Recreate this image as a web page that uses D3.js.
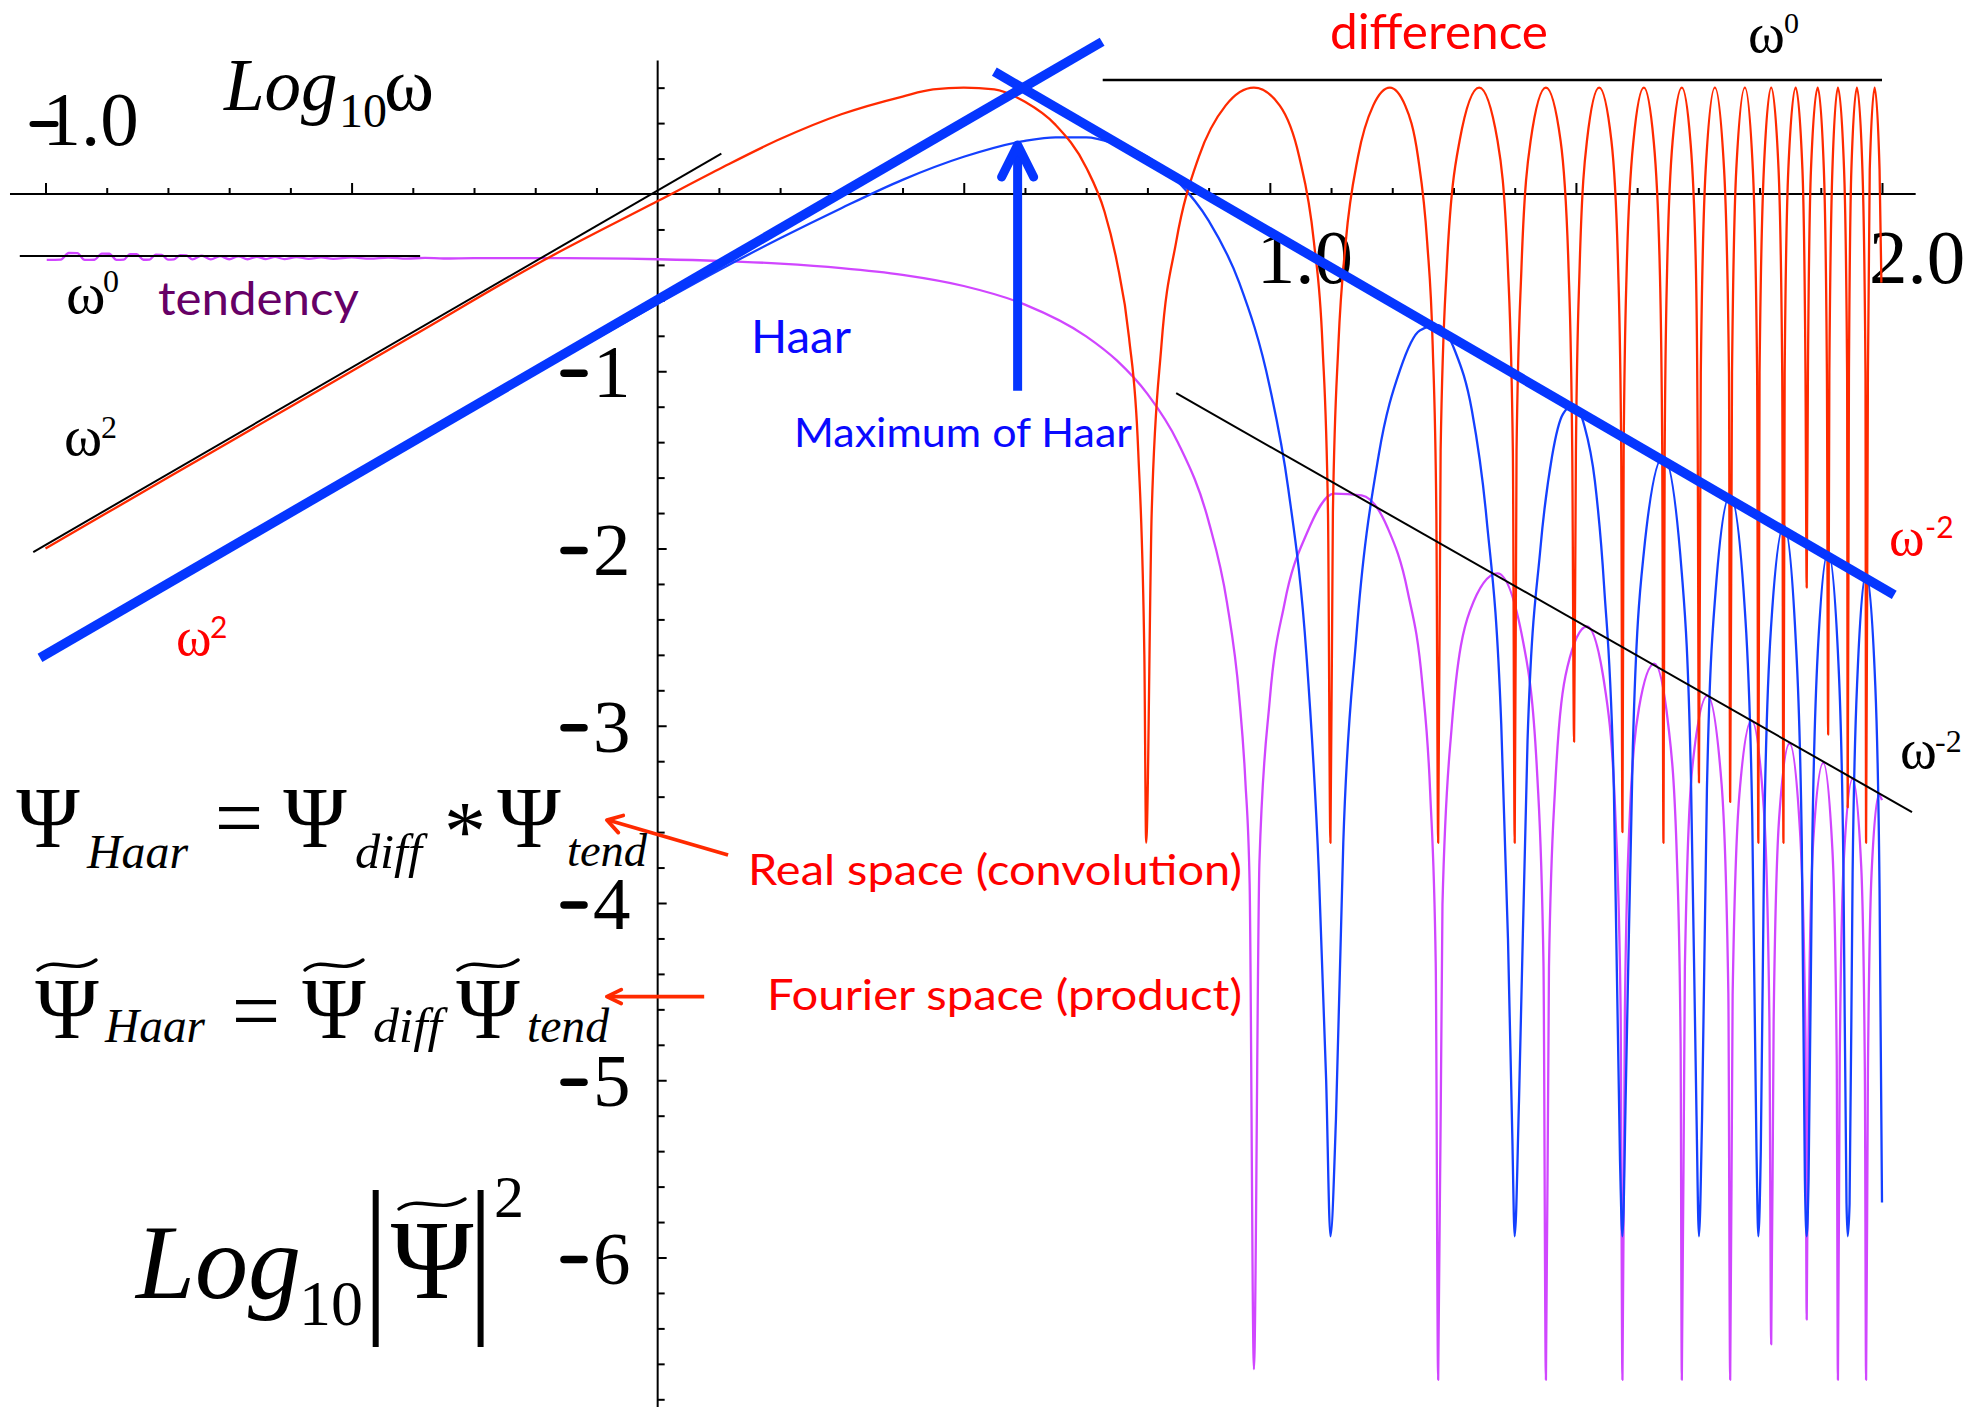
<!DOCTYPE html>
<html>
<head>
<meta charset="utf-8">
<title>Haar wavelet spectrum: difference × tendency</title>
<script src="https://cdn.jsdelivr.net/npm/d3@7"></script>
<style>
  html, body { margin: 0; padding: 0; background: #fff; }
  svg { display: block; }
</style>
</head>
<body>
<svg id="chart" width="1987" height="1407"></svg>
<script>
// ---------------------------------------------------------------------------
// Spectra as [log10 ω, log10 |Ψ̃|²] pairs
// ---------------------------------------------------------------------------

// "difference" wavelet (red)
const diffSpectrum = [
  [-1.00,-2.00],[-0.80,-1.60],[-0.60,-1.20],[-0.40,-0.80],[-0.20,-0.40],[0.00,-0.04],
  [0.10,0.14],[0.20,0.31],[0.30,0.45],[0.40,0.55],[0.45,0.59],[0.50,0.60],[0.55,0.59],
  [0.60,0.52],[0.65,0.39],[0.70,0.15],[0.73,-0.10],[0.75,-0.38],[0.77,-0.81],[0.785,-1.45],
  [0.795,-2.60],[0.798,-3.66],
  [0.807,-1.80],[0.823,-0.85],[0.847,-0.27],[0.884,0.21],[0.928,0.50],[0.974,0.60],
  [1.016,0.50],[1.048,0.21],[1.072,-0.27],[1.086,-0.85],[1.095,-1.80],[1.099,-3.66],
  [1.103,-1.80],[1.112,-0.85],[1.124,-0.27],[1.144,0.21],[1.169,0.50],[1.196,0.60],
  [1.221,0.50],[1.242,0.21],[1.257,-0.27],[1.266,-0.85],[1.272,-1.80],[1.275,-3.66],
  [1.279,-1.45],[1.289,-0.42],[1.310,0.30],[1.342,0.60],[1.372,0.30],[1.389,-0.42],[1.397,-1.45],[1.400,-3.66],
  [1.403,-1.45],[1.411,-0.42],[1.426,0.30],[1.451,0.60],[1.475,0.30],[1.488,-0.42],[1.494,-1.45],[1.497,-3.09],
  [1.500,-1.45],[1.506,-0.42],[1.518,0.30],[1.538,0.60],[1.558,0.30],[1.569,-0.42],[1.574,-1.45],[1.576,-3.60],
  [1.578,-1.45],[1.583,-0.42],[1.594,0.30],[1.611,0.60],[1.627,0.30],[1.637,-0.42],[1.641,-1.45],[1.643,-3.66],
  [1.645,-1.45],[1.649,-0.42],[1.658,0.30],[1.673,0.60],[1.687,0.30],[1.696,-0.42],[1.699,-1.45],[1.701,-3.32],
  [1.704,-1.01],[1.712,0.14],[1.727,0.60],[1.742,0.14],[1.750,-1.01],[1.752,-3.43],
  [1.755,-1.01],[1.762,0.14],[1.776,0.60],[1.789,0.14],[1.796,-1.01],[1.798,-3.66],
  [1.800,-1.01],[1.807,0.14],[1.819,0.60],[1.831,0.14],[1.837,-1.01],[1.839,-3.66],
  [1.841,-1.01],[1.847,0.14],[1.859,0.60],[1.870,0.14],[1.875,-1.01],[1.877,-2.22],
  [1.879,-1.01],[1.884,0.14],[1.895,0.60],[1.905,0.14],[1.910,-1.01],[1.912,-3.05],
  [1.914,-1.01],[1.919,0.14],[1.928,0.60],[1.938,0.14],[1.943,-1.01],[1.944,-3.46],
  [1.946,-1.01],[1.950,0.14],[1.959,0.60],[1.968,0.14],[1.973,-1.01],[1.974,-3.66],
  [1.977,-1.01],[1.980,0.14],[1.988,0.60],[1.996,0.14],[1.999,-0.50]
];

// Haar wavelet (blue)
const haarSpectrum = [
  [-1.00,-2.60],[-0.60,-1.80],[-0.20,-1.01],[0.00,-0.62],[0.10,-0.43],[0.20,-0.25],
  [0.30,-0.08],[0.40,0.08],[0.50,0.21],[0.60,0.30],[0.65,0.32],[0.70,0.32],[0.75,0.28],
  [0.80,0.21],[0.85,0.07],[0.90,-0.15],[0.95,-0.50],[1.00,-1.09],[1.03,-1.66],[1.06,-2.61],
  [1.08,-3.82],[1.092,-5.00],[1.099,-5.88],
  [1.108,-5.22],[1.120,-3.66],[1.141,-2.51],[1.178,-1.47],[1.213,-0.99],[1.245,-0.77],
  [1.275,-0.74],[1.303,-0.89],[1.330,-1.22],[1.354,-1.83],[1.378,-2.99],[1.389,-4.20],
  [1.396,-5.30],[1.400,-5.88],
  [1.407,-5.12],[1.421,-3.08],[1.442,-2.00],[1.461,-1.48],[1.479,-1.24],[1.497,-1.19],
  [1.514,-1.31],[1.531,-1.62],[1.546,-2.21],[1.562,-3.36],[1.572,-5.45],[1.576,-5.88],
  [1.582,-4.97],[1.593,-3.12],[1.611,-2.02],[1.643,-1.48],[1.673,-2.14],[1.688,-3.31],[1.697,-5.20],[1.701,-5.88],
  [1.706,-5.22],[1.714,-3.36],[1.728,-2.25],[1.752,-1.70],[1.776,-2.35],[1.788,-3.51],[1.795,-5.40],[1.798,-5.88],
  [1.802,-5.40],[1.808,-3.54],[1.819,-2.43],[1.840,-1.87],[1.859,-2.51],[1.869,-3.66],[1.874,-5.55],[1.877,-5.88],
  [1.880,-5.57],[1.886,-3.70],[1.895,-2.59],[1.912,-2.02],[1.929,-2.66],[1.937,-3.81],[1.942,-5.69],[1.944,-5.88],
  [1.947,-5.70],[1.952,-3.83],[1.960,-2.71],[1.974,-2.14],[1.989,-2.77],[1.996,-3.92],[2.000,-5.69]
];

// "tendency" (box) wavelet (purple)
const tendSpectrum = [
  [-0.998,-0.372],[-0.975,-0.370],[-0.962,-0.333],[-0.948,-0.334],[-0.936,-0.372],[-0.920,-0.371],
  [-0.908,-0.336],[-0.896,-0.337],[-0.884,-0.372],[-0.872,-0.370],[-0.862,-0.339],[-0.851,-0.340],
  [-0.840,-0.371],[-0.830,-0.370],[-0.820,-0.342],[-0.810,-0.343],[-0.800,-0.370],[-0.790,-0.369],
  [-0.780,-0.345],[-0.770,-0.346],[-0.760,-0.369],[-0.745,-0.348],[-0.730,-0.369],[-0.715,-0.350],
  [-0.700,-0.368],[-0.685,-0.352],[-0.670,-0.368],[-0.655,-0.354],[-0.640,-0.367],[-0.625,-0.355],
  [-0.610,-0.367],[-0.590,-0.356],[-0.570,-0.366],[-0.550,-0.357],[-0.530,-0.366],[-0.500,-0.358],
  [-0.470,-0.365],[-0.440,-0.359],[-0.410,-0.365],[-0.380,-0.360],[-0.350,-0.364],[-0.300,-0.362],
  [-0.200,-0.362],[-0.050,-0.365],[0.00,-0.368],[0.10,-0.377],[0.20,-0.393],[0.30,-0.418],
  [0.40,-0.456],[0.50,-0.519],[0.60,-0.624],[0.70,-0.803],[0.75,-0.939],[0.80,-1.128],
  [0.85,-1.403],[0.90,-1.847],[0.93,-2.305],[0.95,-2.838],[0.96,-3.31],[0.967,-3.89],[0.974,-6.63],
  [0.983,-3.77],[1.000,-2.85],[1.024,-2.31],[1.061,-1.91],[1.105,-1.69],[1.150,-1.70],
  [1.192,-1.88],[1.225,-2.24],[1.249,-2.76],[1.262,-3.38],[1.271,-4.34],[1.275,-6.69],
  [1.282,-4.01],[1.297,-3.01],[1.327,-2.35],[1.372,-2.14],[1.414,-2.53],[1.437,-3.29],[1.447,-4.34],[1.451,-6.69],
  [1.456,-4.36],[1.466,-3.35],[1.486,-2.67],[1.518,-2.44],[1.548,-2.80],[1.565,-3.55],[1.573,-4.60],[1.576,-6.69],
  [1.580,-4.61],[1.587,-3.59],[1.603,-2.90],[1.628,-2.65],[1.651,-3.00],[1.665,-3.75],[1.671,-4.79],[1.673,-6.69],
  [1.678,-4.36],[1.690,-3.24],[1.715,-2.83],[1.738,-3.33],[1.749,-4.51],[1.752,-6.69],
  [1.756,-4.52],[1.767,-3.39],[1.787,-2.97],[1.807,-3.47],[1.816,-4.64],[1.819,-6.49],
  [1.823,-4.66],[1.832,-3.52],[1.849,-3.10],[1.866,-3.59],[1.875,-4.76],[1.877,-6.35],
  [1.880,-4.77],[1.888,-3.63],[1.904,-3.21],[1.919,-3.70],[1.926,-4.86],[1.928,-6.69],
  [1.931,-4.87],[1.938,-3.73],[1.952,-3.30],[1.966,-3.79],[1.972,-4.95],[1.974,-6.69],
  [1.977,-4.96],[1.983,-3.83],[1.995,-3.39],[2.000,-3.42]
];

// Power-law guide lines (endpoints in log10 ω, log10 |Ψ̃|²)
const guideOmega2      = [[-1.020,-2.020],[0.104,0.228]];   // ω²  (thin black)
const guideOmegaMinus2 = [[0.847,-1.124],[2.049,-3.487]];   // ω⁻² (thin black)
const guideOmega0Top   = [[0.727,0.643],[2.000,0.643]];     // ω⁰  (difference plateau)
const guideOmega0Left  = [[-1.042,-0.350],[-0.388,-0.350]]; // ω⁰  (tendency plateau)
const haarRiseFit      = [[-1.009,-2.617],[0.726,0.859]];   // ω²  (thick blue)
const haarFallFit      = [[0.550,0.690],[2.020,-2.262]];    // ω⁻² (thick blue)

// Annotation arrows, in data units
const maxHaarArrow   = { x: 0.588, from: -1.11, to: 0.288 };
const convArrow      = { from: [0.115,-3.729], to: [-0.083,-3.532] };
const productArrow   = { from: [0.076,-4.528], to: [-0.083,-4.528] };

// Tick labels
const xLabelValues = [-1, 1, 2];
const xLabelTexts  = ["-1.0", "1.0", "2.0"];
const yLabelValues = [-1, -2, -3, -4, -5, -6];
const yLabelTexts  = ["-1", "-2", "-3", "-4", "-5", "-6"];

// ---------------------------------------------------------------------------
// Scales and styles
// ---------------------------------------------------------------------------
const x = d3.scaleLinear().domain([-1, 2]).range([45.5, 1882]);
const y = d3.scaleLinear().domain([0, -6]).range([194, 1257.5]);

const serif = "'Liberation Serif', 'Times New Roman', Times, serif";
const sans  = "Lato, 'Open Sans', 'Noto Sans', sans-serif";

const RED_LINE = "#ff2a00", RED_TEXT = "#ff0000";
const BLUE_LINE = "#1440ff", BLUE_THICK = "#0536ff", BLUE_TEXT = "#0a0aff";
const PURPLE_LINE = "#d046ff", PURPLE_TEXT = "#660066";

const svg = d3.select("#chart");
svg.append("rect").attr("width", 1987).attr("height", 1407).attr("fill", "#fff");

// ---------------------------------------------------------------------------
// Axes (crossing at the origin)
// ---------------------------------------------------------------------------
const axes = svg.append("g").attr("class", "axes");

axes.append("line")
  .attr("x1", x(-1.058)).attr("x2", x(2.055))
  .attr("y1", y(0)).attr("y2", y(0))
  .attr("stroke", "#000").attr("stroke-width", 2.2);

axes.append("line")
  .attr("x1", x(0)).attr("x2", x(0))
  .attr("y1", y(0.753)).attr("y2", 1407)
  .attr("stroke", "#000").attr("stroke-width", 2);

const xMinorTicks = d3.range(-10, 21).filter(i => i % 5 !== 0).map(i => i / 10);
const xMajorTicks = [-1, -0.5, 0.5, 1, 1.5, 2];
const yMinorTicks = d3.range(-34, 4).filter(i => i % 5 !== 0).map(i => i / 5);
const yMajorTicks = [-1, -2, -3, -4, -5, -6];

function styleAxis(g) {
  g.select(".domain").remove();
  g.selectAll(".tick line").attr("stroke", "#000").attr("stroke-width", 2);
}

axes.append("g").attr("transform", `translate(0,${y(0)})`)
  .call(d3.axisTop(x).tickValues(xMinorTicks).tickSize(6).tickFormat(""))
  .call(styleAxis);
axes.append("g").attr("transform", `translate(0,${y(0)})`)
  .call(d3.axisTop(x).tickValues(xMajorTicks).tickSize(11).tickFormat(""))
  .call(styleAxis);
axes.append("g").attr("transform", `translate(${x(0)},0)`)
  .call(d3.axisRight(y).tickValues(yMinorTicks).tickSize(7).tickFormat(""))
  .call(styleAxis);
axes.append("g").attr("transform", `translate(${x(0)},0)`)
  .call(d3.axisRight(y).tickValues(yMajorTicks).tickSize(9).tickFormat(""))
  .call(styleAxis);

// Heavy rounded minus used in the tick labels
function minusBar(g, x1, x2, yy, w) {
  g.append("line").attr("x1", x1).attr("x2", x2).attr("y1", yy).attr("y2", yy)
    .attr("stroke", "#000").attr("stroke-width", w).attr("stroke-linecap", "round");
}

// x tick labels: "-1.0" sits above the axis, the others below
xLabelValues.forEach((v, i) => {
  const s = xLabelTexts[i];
  const neg = s.startsWith("-");
  const body = neg ? s.slice(1) : s;
  const cx = x(v) + (neg ? 45 : 35);
  const base = neg ? y(0) - 49 : y(0) + 89;
  axes.append("text").attr("x", cx).attr("y", base)
    .attr("text-anchor", "middle").attr("font-family", serif)
    .attr("font-size", 77).text(body);
  if (neg) minusBar(axes, x(v) - 13, x(v) + 10, base - 21, 6);
});

// y tick labels
yLabelValues.forEach((v, i) => {
  const s = yLabelTexts[i];
  axes.append("text").attr("x", 593).attr("y", y(v) + 26)
    .attr("font-family", serif).attr("font-size", 75).text(s.slice(1));
  minusBar(axes, 564, 584, y(v) + 2, 7.5);
});

// ---------------------------------------------------------------------------
// Spectra
// ---------------------------------------------------------------------------
const curve = d3.line()
  .x(d => x(d[0])).y(d => y(d[1]))
  .curve(d3.curveMonotoneX);
const straight = d3.line().x(d => x(d[0])).y(d => y(d[1]));

const plot = svg.append("g").attr("class", "spectra")
  .attr("fill", "none").attr("stroke-linejoin", "round");

plot.append("path").datum(tendSpectrum).attr("d", curve)
  .attr("stroke", PURPLE_LINE).attr("stroke-width", 2.3);
plot.append("path").datum(haarSpectrum).attr("d", curve)
  .attr("stroke", BLUE_LINE).attr("stroke-width", 2.3);
plot.append("path").datum(diffSpectrum).attr("d", curve)
  .attr("stroke", RED_LINE).attr("stroke-width", 2.3);

// Thin black power-law guides
[guideOmega2, guideOmegaMinus2, guideOmega0Top, guideOmega0Left].forEach(g => {
  plot.append("path").datum(g).attr("d", straight)
    .attr("stroke", "#000").attr("stroke-width", g === guideOmega0Top ? 2.4 : 2);
});

// Thick blue asymptotes of the Haar spectrum
[haarRiseFit, haarFallFit].forEach(g => {
  plot.append("path").datum(g).attr("d", straight)
    .attr("stroke", BLUE_THICK).attr("stroke-width", 9.5).attr("stroke-linecap", "butt");
});

// ---------------------------------------------------------------------------
// Arrows
// ---------------------------------------------------------------------------
const ann = svg.append("g").attr("class", "annotations").attr("fill", "none");

// Vertical arrow onto the Haar maximum
const ax = x(maxHaarArrow.x), tipY = y(maxHaarArrow.to);
ann.append("line").attr("x1", ax).attr("x2", ax)
  .attr("y1", y(maxHaarArrow.from)).attr("y2", tipY + 3)
  .attr("stroke", BLUE_THICK).attr("stroke-width", 9);
ann.append("path")
  .attr("d", `M${ax - 16},${tipY + 34} L${ax},${tipY + 2} L${ax + 16},${tipY + 34}`)
  .attr("stroke", BLUE_THICK).attr("stroke-width", 9)
  .attr("stroke-linecap", "round").attr("stroke-linejoin", "round");

// Red pointer arrows toward the equations
function pointer(a, wing, spread) {
  const x1 = x(a.from[0]), y1 = y(a.from[1]);
  const x2 = x(a.to[0]),   y2 = y(a.to[1]);
  const ang = Math.atan2(y1 - y2, x1 - x2);
  ann.append("line").attr("x1", x1).attr("y1", y1).attr("x2", x2 + 1).attr("y2", y2)
    .attr("stroke", RED_LINE).attr("stroke-width", 3.8);
  const w1 = [x2 + wing * Math.cos(ang + spread), y2 + wing * Math.sin(ang + spread)];
  const w2 = [x2 + wing * Math.cos(ang - spread), y2 + wing * Math.sin(ang - spread)];
  ann.append("path")
    .attr("d", `M${w1[0]},${w1[1]} L${x2},${y2} L${w2[0]},${w2[1]}`)
    .attr("stroke", RED_LINE).attr("stroke-width", 3.8)
    .attr("stroke-linecap", "round").attr("stroke-linejoin", "round");
}
pointer(convArrow, 17, 0.55);
pointer(productArrow, 16, 0.45);

// ---------------------------------------------------------------------------
// Text
// ---------------------------------------------------------------------------
const txt = svg.append("g").attr("class", "labels");

function label(px, py, str, o = {}) {
  const t = txt.append("text").attr("x", px).attr("y", py).text(str)
    .attr("font-family", o.family || serif)
    .attr("font-size", o.size || 40)
    .attr("fill", o.fill || "#000");
  if (o.italic) t.attr("font-style", "italic");
  if (o.anchor) t.attr("text-anchor", o.anchor);
  if (o.len) t.attr("textLength", o.len).attr("lengthAdjust", "spacingAndGlyphs");
  return t;
}

function tilde(x0, cy, w) {
  txt.append("path")
    .attr("d", `M${x0},${cy + 5} C${x0 + w * 0.3},${cy - 10} ${x0 + w * 0.62},${cy + 11} ${x0 + w},${cy - 5}`)
    .attr("fill", "none").attr("stroke", "#000").attr("stroke-width", 3.4)
    .attr("stroke-linecap", "round");
}

// Axis titles
label(224, 110, "Log", { size: 73, italic: true });
label(339, 127, "10", { size: 48 });
label(384, 110, "ω", { size: 76 });

label(136, 1298, "Log", { size: 106, italic: true });
label(299, 1325, "10", { size: 64 });
txt.append("line").attr("x1", 375.7).attr("x2", 375.7).attr("y1", 1190).attr("y2", 1347)
  .attr("stroke", "#000").attr("stroke-width", 6);
label(432, 1298, "Ψ", { size: 112, anchor: "middle" });
tilde(399, 1204, 66);
txt.append("line").attr("x1", 480.6).attr("x2", 480.6).attr("y1", 1190).attr("y2", 1347)
  .attr("stroke", "#000").attr("stroke-width", 6);
label(494, 1217, "2", { size: 60 });

// Convolution / product identities
label(48, 847, "Ψ", { size: 86, anchor: "middle" });
label(87, 868, "Haar", { size: 48, italic: true, len: 101 });
label(239, 847, "=", { size: 86, anchor: "middle" });
label(315, 847, "Ψ", { size: 86, anchor: "middle" });
label(355, 868, "diff", { size: 48, italic: true, len: 67 });
label(465, 860, "*", { size: 84, anchor: "middle" });
label(529, 847, "Ψ", { size: 86, anchor: "middle" });
label(567, 866, "tend", { size: 46, italic: true, len: 80 });

label(67, 1038, "Ψ", { size: 86, anchor: "middle" });
tilde(38, 965, 58);
label(105, 1042, "Haar", { size: 48, italic: true, len: 100 });
label(256, 1040, "=", { size: 86, anchor: "middle" });
label(334, 1038, "Ψ", { size: 86, anchor: "middle" });
tilde(305, 965, 58);
label(373, 1042, "diff", { size: 48, italic: true, len: 69 });
label(488, 1038, "Ψ", { size: 86, anchor: "middle" });
tilde(458, 965, 60);
label(527, 1042, "tend", { size: 48, italic: true, len: 82 });

// Curve names and notes
label(1330, 49, "difference", { family: sans, size: 48, fill: RED_TEXT, len: 218 });
label(158, 315, "tendency", { family: sans, size: 46, fill: PURPLE_TEXT, len: 201 });
label(751, 353, "Haar", { family: sans, size: 46, fill: BLUE_TEXT, len: 100 });
label(794, 447, "Maximum of Haar", { family: sans, size: 41, fill: BLUE_TEXT, len: 338 });
label(748, 885, "Real space (convolution)", { family: sans, size: 43, fill: RED_TEXT, len: 494 });
label(767, 1010, "Fourier space (product)", { family: sans, size: 43, fill: RED_TEXT, len: 475 });

// Power-law annotations
label(1748, 52, "ω", { size: 56 });
label(1784, 33, "0", { size: 30 });

label(66, 313, "ω", { size: 60 });
label(103, 292, "0", { size: 32 });

label(64, 455, "ω", { size: 58 });
label(101, 438, "2", { size: 32 });

label(176, 655, "ω", { size: 54, fill: RED_TEXT });
label(210, 638, "2", { family: sans, size: 30, fill: RED_TEXT });

label(1889, 555, "ω", { size: 54, fill: RED_TEXT });
label(1925, 538, "-2", { family: sans, size: 30, fill: RED_TEXT });

label(1900, 768, "ω", { size: 56 });
label(1935, 752, "-2", { size: 32 });
</script>
</body>
</html>
